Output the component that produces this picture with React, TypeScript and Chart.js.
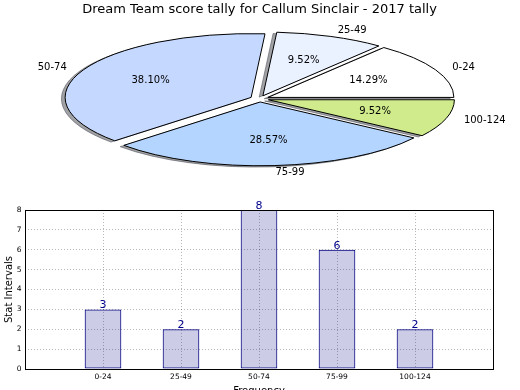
import React, { useEffect, useRef } from 'react';
import { Chart, registerables } from 'chart.js';

Chart.register(...registerables);

// ---------- data ----------
const TITLE = 'Dream Team score tally for Callum Sinclair - 2017 tally';
const categories = ['0-24', '25-49', '50-74', '75-99', '100-124'];
const counts = [3, 2, 8, 6, 2];
const yTickLabels = ['0', '1', '2', '3', '4', '5', '6', '7', '8'];
const yLabel = 'Stat Intervals';
const xLabel = 'Frequency';

// ---------- style ----------
const FONT = "'DejaVu Sans', 'Liberation Sans', sans-serif";
const pieColors = ['#ffffff', '#eaf1ff', '#c5d8ff', '#b4d5ff', '#cfeb8c'];
const explode = [0.05, 0.05, 0.05, 0.05, 0.05];
const SQUASH = 0.343; // vertical / horizontal radius of the tilted pie
const PIE_RADIUS = 186;
const SHADOW_DX = -3.7;
const SHADOW_DY = 1.3;
const SHADOW_COLOR = 'rgba(68,70,78,0.5)';

const total = counts.reduce((a, b) => a + b, 0);

const ellipsePie = {
  id: 'ellipsePie',
  beforeDatasetsDraw(chart: any) {
    const ctx = chart.ctx;
    const meta = chart.getDatasetMeta(0);
    const K = SQUASH;
    const origStroke = ctx.stroke;
    ctx.stroke = function (...args: any[]) {
      this.save();
      this.setTransform(1, 0, 0, 1, 0, 0);
      origStroke.apply(this, args);
      this.restore();
    };
    const pass = (ox: number, oy: number, shadow: boolean) => {
      meta.data.forEach((arc: any, i: number) => {
        const p = arc.getProps(['x', 'y', 'startAngle', 'endAngle', 'outerRadius'], true);
        const mid = (p.startAngle + p.endAngle) / 2;
        const e = explode[i] * p.outerRadius;
        ctx.save();
        ctx.setTransform(1, 0, 0, -K, ox, p.y * (1 + K) + oy);
        ctx.translate(Math.cos(mid) * e, Math.sin(mid) * e);
        if (shadow) {
          const saved = arc.options;
          arc.options = Object.assign({}, saved, {
            backgroundColor: SHADOW_COLOR,
            borderColor: SHADOW_COLOR,
          });
          arc.draw(ctx);
          arc.options = saved;
        } else {
          arc.draw(ctx);
        }
        ctx.restore();
      });
    };
    pass(SHADOW_DX, SHADOW_DY, true);
    pass(0, 0, false);
    delete ctx.stroke;
    return false;
  },
  afterDraw(chart: any) {
    const ctx = chart.ctx;
    const meta = chart.getDatasetMeta(0);
    const K = SQUASH;
    ctx.save();
    ctx.font = `10px ${FONT}`;
    ctx.fillStyle = '#000';
    ctx.textBaseline = 'middle';
    meta.data.forEach((arc: any, i: number) => {
      const p = arc.getProps(['x', 'y', 'startAngle', 'endAngle', 'outerRadius'], true);
      const R = p.outerRadius;
      const mid = (p.startAngle + p.endAngle) / 2;
      const c = Math.cos(mid);
      const s = Math.sin(mid);
      const ex = p.x + explode[i] * R * c;
      const ey = p.y - K * explode[i] * R * s;
      ctx.textAlign = c > 0 ? 'left' : 'right';
      ctx.fillText(categories[i], ex + 1.1 * R * c, ey - K * 1.1 * R * s);
      ctx.textAlign = 'center';
      const pct = ((counts[i] / total) * 100).toFixed(2) + '%';
      ctx.fillText(pct, ex + 0.6 * R * c, ey - K * 0.6 * R * s);
    });
    ctx.restore();
  },
};

const barDecor = {
  id: 'barDecor',
  afterDatasetsDraw(chart: any) {
    const ctx = chart.ctx;
    const meta = chart.getDatasetMeta(0);
    ctx.save();
    ctx.font = `11px ${FONT}`;
    ctx.fillStyle = '#00008b';
    ctx.textAlign = 'center';
    ctx.textBaseline = 'alphabetic';
    meta.data.forEach((bar: any, i: number) => {
      const p = bar.getProps(['x', 'y'], true);
      ctx.fillText(String(counts[i]), p.x, p.y - 1);
    });
    ctx.restore();
  },
  afterDraw(chart: any) {
    const { ctx, chartArea: a } = chart;
    ctx.save();
    ctx.strokeStyle = '#000';
    ctx.lineWidth = 1;
    ctx.strokeRect(Math.round(a.left) + 0.5, Math.round(a.top) + 0.5, Math.round(a.right - a.left), Math.round(a.bottom - a.top));
    ctx.restore();
  },
};

export default function App() {
  const pieRef = useRef<HTMLCanvasElement>(null);
  const barRef = useRef<HTMLCanvasElement>(null);

  useEffect(() => {
    const pie = new Chart(pieRef.current!, {
      type: 'pie',
      data: {
        labels: categories,
        datasets: [
          {
            data: counts,
            backgroundColor: pieColors,
            borderColor: '#000',
            borderWidth: 1,
            clip: false as any,
          },
        ],
      },
      options: {
        animation: false,
        responsive: false,
        events: [],
        rotation: 90,
        radius: PIE_RADIUS,
        layout: { padding: { top: 0, bottom: 12, left: 0, right: 1 } },
        plugins: {
          legend: { display: false },
          tooltip: { enabled: false },
          title: {
            display: true,
            text: TITLE,
            color: '#000',
            font: { family: FONT, size: 13, weight: 'normal' },
            padding: { top: 2, bottom: 2 },
          },
        },
      } as any,
      plugins: [ellipsePie],
    });

    const gridColor = 'rgba(0,0,0,0.28)';
    const tickFont = { family: FONT, size: 7.5 };
    const bar = new Chart(barRef.current!, {
      type: 'bar',
      data: {
        datasets: [
          {
            data: counts.map((v, i) => ({ x: i, y: v })),
            backgroundColor: 'rgba(0,0,128,0.2)',
            borderColor: '#000080',
            borderWidth: 1,
            borderSkipped: false,
            barPercentage: 0.47,
            categoryPercentage: 1,
          },
        ],
      },
      options: {
        animation: false,
        responsive: false,
        events: [],
        layout: { padding: { left: 0, right: 27, top: 15, bottom: 0 } },
        plugins: {
          legend: { display: false },
          tooltip: { enabled: false },
        },
        scales: {
          x: {
            type: 'linear',
            min: -1,
            max: 5,
            offset: false,
            afterBuildTicks: (s: any) => {
              s.ticks = categories.map((_, i) => ({ value: i }));
            },
            afterFit: (s: any) => {
              s.height = 36;
            },
            ticks: {
              callback: (v: any) => categories[v] ?? '',
              font: tickFont,
              color: '#000',
              padding: 4,
              maxRotation: 0,
              autoSkip: false,
            },
            grid: { color: gridColor, lineWidth: 1, drawTicks: false, offset: false },
            border: { display: false, dash: [1, 2] },
            title: {
              display: true,
              text: xLabel,
              color: '#000',
              font: { family: FONT, size: 10 },
              padding: { top: 0, bottom: 8 },
            },
          },
          y: {
            min: 0,
            max: 8,
            afterFit: (s: any) => {
              s.width = 25;
            },
            ticks: {
              stepSize: 1,
              callback: (v: any) => yTickLabels[v] ?? '',
              font: tickFont,
              color: '#000',
              padding: 3.5,
            },
            grid: { color: gridColor, lineWidth: 1, drawTicks: false },
            border: { display: false, dash: [1, 2] },
            title: {
              display: true,
              text: yLabel,
              color: '#000',
              font: { family: FONT, size: 10 },
              padding: { top: 3, bottom: 0 },
            },
          },
        },
      } as any,
      plugins: [barDecor],
    });

    return () => {
      pie.destroy();
      bar.destroy();
    };
  }, []);

  return (
    <div
      style={{
        position: 'fixed',
        left: 0,
        top: 0,
        width: 520,
        height: 390,
        overflow: 'hidden',
        background: '#fff',
      }}
    >
      <canvas
        ref={pieRef}
        width={520}
        height={190}
        style={{ position: 'absolute', left: 0, top: 0, display: 'block' }}
      />
      <canvas
        ref={barRef}
        width={520}
        height={210}
        style={{ position: 'absolute', left: 0, top: 195, display: 'block' }}
      />
    </div>
  );
}
